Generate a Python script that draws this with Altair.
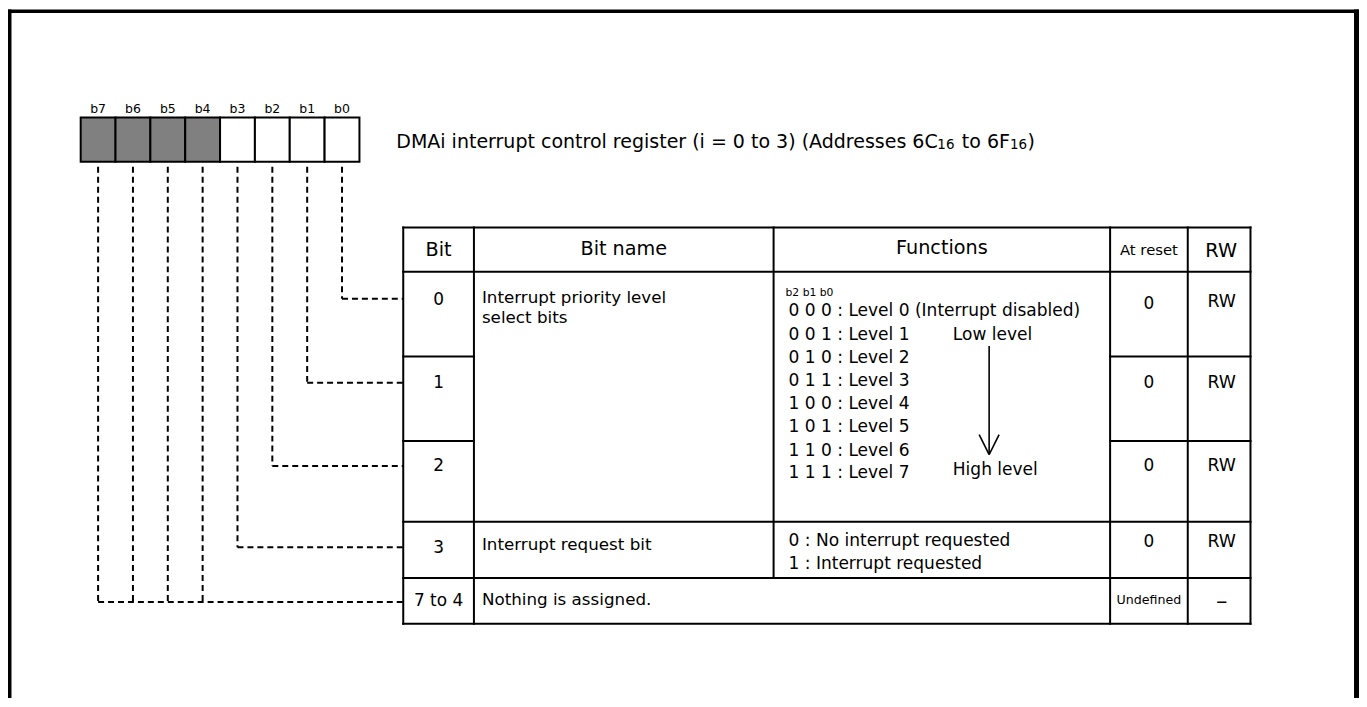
import altair as alt
import pandas as pd

# ---------------- data ----------------
FONT = "DejaVu Sans"
W, H = 1357, 690
X0, Y0 = 8, 8

# register bit boxes
reg_labels = ["b7", "b6", "b5", "b4", "b3", "b2", "b1", "b0"]
reg_reserved = [True, True, True, True, False, False, False, False]
reg_left, reg_cell_w, reg_top, reg_bottom = 81, 35, 116.5, 161
reg_label_y = 107.5

# title (with subscripts)
title_parts = ["DMAi interrupt control register (i = 0 to 3) (Addresses 6C", "16", "to 6F", "16", ")"]
title_sizes = [19.1, 13.5, 19.1, 13.5, 19.1]
title_x = [398, 941.5, 966, 1014.5, 1032]
title_baseline_y = [147, 148, 147, 148, 147]

# table grid
col_edges = [405, 476, 777, 1115, 1193, 1256]
row_edges = [227, 271.5, 356.5, 441.5, 522.5, 579, 625]

headers = ["Bit", "Bit name", "Functions", "At reset", "RW"]
header_sizes = [19.3, 19.3, 19.3, 14.9, 19.4]
header_y = [250, 248.5, 248, 250.5, 250.5]

bit_nums = ["0", "1", "2", "3", "7 to 4"]
bit_num_y = [299.5, 383.5, 467, 548.5, 602.5]
reset_vals = ["0", "0", "0", "0", "Undefined"]
reset_y = [303.5, 383.5, 467, 542.5, 601]
rw_vals = ["RW", "RW", "RW", "RW", "–"]
rw_y = [302, 383.5, 467, 542.5, 605]

bit_names = ["Interrupt priority level", "select bits", "Interrupt request bit", "Nothing is assigned."]
bit_name_y = [298, 317.5, 546, 601]

func_header = "b2 b1 b0"
func_lines = [
    "0 0 0 : Level 0 (Interrupt disabled)",
    "0 0 1 : Level 1",
    "0 1 0 : Level 2",
    "0 1 1 : Level 3",
    "1 0 0 : Level 4",
    "1 0 1 : Level 5",
    "1 1 0 : Level 6",
    "1 1 1 : Level 7",
]
func_line_y = [310.5, 334.5, 358, 381.5, 404.5, 427.5, 451, 474]
bit3_funcs = ["0 : No interrupt requested", "1 : Interrupt requested"]
bit3_func_y = [542, 564.5]
level_notes = ["Low level", "High level"]
level_note_y = [334.5, 470.5]

# dashed connectors: end y of each bit line (b0..b7)
conn_end_y = [298.5, 383, 466.5, 548, 603, 603, 603, 603]

# ---------------- build tables ----------------
xs = alt.Scale(domain=[X0, X0 + W], nice=False, zero=False)
ys = alt.Scale(domain=[Y0 + H, Y0], nice=False, zero=False)

def X(f="x"):
    return alt.X(f"{f}:Q", scale=xs, axis=None)

def Y(f="y"):
    return alt.Y(f"{f}:Q", scale=ys, axis=None)

# frame
frame = pd.DataFrame([
    dict(x=8, x2=11.5, y=8, y2=705),
    dict(x=8, x2=1365, y=8, y2=11.5),
    dict(x=1360, x2=1365, y=8, y2=705),
])

# register rects
reg_rows = []
for i, (lab, res) in enumerate(zip(reg_labels, reg_reserved)):
    x0 = reg_left + i * reg_cell_w
    reg_rows.append(dict(x=x0, x2=x0 + reg_cell_w, y=reg_top, y2=reg_bottom,
                         fill="#808080" if res else "#ffffff"))
reg_df = pd.DataFrame(reg_rows)

centers = [reg_left + i * reg_cell_w + reg_cell_w / 2 for i in range(8)]

# text rows
c_text, l_text = [], []
for lab, cx in zip(reg_labels, centers):
    c_text.append(dict(x=cx, y=reg_label_y, t=lab, fs=12.5))
for h, s, hy, a, b in zip(headers, header_sizes, header_y, col_edges[:-1], col_edges[1:]):
    c_text.append(dict(x=(a + b) / 2 + (2 if h == "RW" else 0), y=hy, t=h, fs=s))
bc = (col_edges[0] + col_edges[1]) / 2
rc = (col_edges[3] + col_edges[4]) / 2
wc = (col_edges[4] + col_edges[5]) / 2
for t, y in zip(bit_nums, bit_num_y):
    c_text.append(dict(x=bc, y=y, t=t, fs=17))
for t, y in zip(reset_vals, reset_y):
    c_text.append(dict(x=rc, y=y, t=t, fs=12.7 if t == "Undefined" else 17))
for t, y in zip(rw_vals, rw_y):
    if t == "RW":
        c_text.append(dict(x=wc + 2.5, y=y, t=t, fs=17.4))
    else:
        c_text.append(dict(x=wc + 2.5, y=y - 1.5, t=t, fs=23))
c_df = pd.DataFrame(c_text)

for t, y in zip(bit_names, bit_name_y):
    l_text.append(dict(x=484, y=y, t=t, fs=16.8))
l_text.append(dict(x=789, y=293, t=func_header, fs=10.8))
for t, y in zip(func_lines, func_line_y):
    l_text.append(dict(x=792, y=y, t=t, fs=17.1))
for t, y in zip(bit3_funcs, bit3_func_y):
    l_text.append(dict(x=792, y=y, t=t, fs=17.1))
for t, y in zip(level_notes, level_note_y):
    l_text.append(dict(x=957, y=y, t=t, fs=17.1))
l_df = pd.DataFrame(l_text)

title_df = pd.DataFrame(dict(x=title_x, y=title_baseline_y, t=title_parts, fs=title_sizes))

# table lines
ce, re_ = col_edges, row_edges
solid = [
    dict(x=ce[0], x2=ce[5], y=re_[0], y2=re_[0]),
    dict(x=ce[0], x2=ce[5], y=re_[1], y2=re_[1]),
    dict(x=ce[0], x2=ce[1], y=re_[2], y2=re_[2]),
    dict(x=ce[3], x2=ce[5], y=re_[2], y2=re_[2]),
    dict(x=ce[0], x2=ce[1], y=re_[3], y2=re_[3]),
    dict(x=ce[3], x2=ce[5], y=re_[3], y2=re_[3]),
    dict(x=ce[0], x2=ce[5], y=re_[4], y2=re_[4]),
    dict(x=ce[0], x2=ce[5], y=re_[5], y2=re_[5]),
    dict(x=ce[0], x2=ce[5], y=re_[6], y2=re_[6]),
    dict(x=ce[0], x2=ce[0], y=re_[0], y2=re_[6]),
    dict(x=ce[1], x2=ce[1], y=re_[0], y2=re_[6]),
    dict(x=ce[2], x2=ce[2], y=re_[0], y2=re_[5]),
    dict(x=ce[3], x2=ce[3], y=re_[0], y2=re_[6]),
    dict(x=ce[4], x2=ce[4], y=re_[0], y2=re_[6]),
    dict(x=ce[5], x2=ce[5], y=re_[0], y2=re_[6]),
]
solid_df = pd.DataFrame(solid)

# dashed connectors (b0 is rightmost; b7..b4 join one line from b7)
dashed = []
for k in range(8):
    cx = centers[7 - k]
    ye = conn_end_y[k]
    dashed.append(dict(x=cx, x2=cx, y=reg_bottom + 5, y2=ye))
    if k <= 3 or k == 7:
        dashed.append(dict(x=cx, x2=ce[0], y=ye, y2=ye))
dashed_df = pd.DataFrame(dashed)

# arrow
arrow_df = pd.DataFrame([
    dict(x=993.5, x2=993.5, y=346, y2=454.5),
    dict(x=983.5, x2=993.5, y=435, y2=455),
    dict(x=1003.5, x2=993.5, y=435, y2=455),
])

# ---------------- layers ----------------
frame_l = alt.Chart(frame).mark_rect(color="black").encode(x=X(), x2="x2:Q", y=Y(), y2="y2:Q")
reg_l = alt.Chart(reg_df).mark_rect(stroke="black", strokeWidth=2).encode(
    x=X(), x2="x2:Q", y=Y(), y2="y2:Q", fill=alt.Fill("fill:N", scale=None))
solid_l = alt.Chart(solid_df).mark_rule(color="black", strokeWidth=2, strokeCap="square").encode(
    x=X(), x2="x2:Q", y=Y(), y2="y2:Q")
dash_l = alt.Chart(dashed_df).mark_rule(color="black", strokeWidth=2, strokeDash=[6, 4]).encode(
    x=X(), x2="x2:Q", y=Y(), y2="y2:Q")
arrow_l = alt.Chart(arrow_df).mark_rule(color="black", strokeWidth=1.6).encode(
    x=X(), x2="x2:Q", y=Y(), y2="y2:Q")
ctext_l = alt.Chart(c_df).mark_text(font=FONT, align="center", baseline="middle", color="black").encode(
    x=X(), y=Y(), text="t:N", size=alt.Size("fs:Q", scale=None))
ltext_l = alt.Chart(l_df).mark_text(font=FONT, align="left", baseline="middle", color="black").encode(
    x=X(), y=Y(), text="t:N", size=alt.Size("fs:Q", scale=None))
title_l = alt.Chart(title_df).mark_text(font=FONT, align="left", baseline="alphabetic", color="black").encode(
    x=X(), y=Y(), text="t:N", size=alt.Size("fs:Q", scale=None))

chart = alt.layer(frame_l, dash_l, reg_l, solid_l, arrow_l, ctext_l, ltext_l, title_l).properties(
    width=W, height=H, padding=0, autosize=alt.AutoSizeParams(type="none"),
    background="white",
).configure_view(stroke=None)

chart.save("out.html", embed_options={"renderer": "svg", "actions": False})
